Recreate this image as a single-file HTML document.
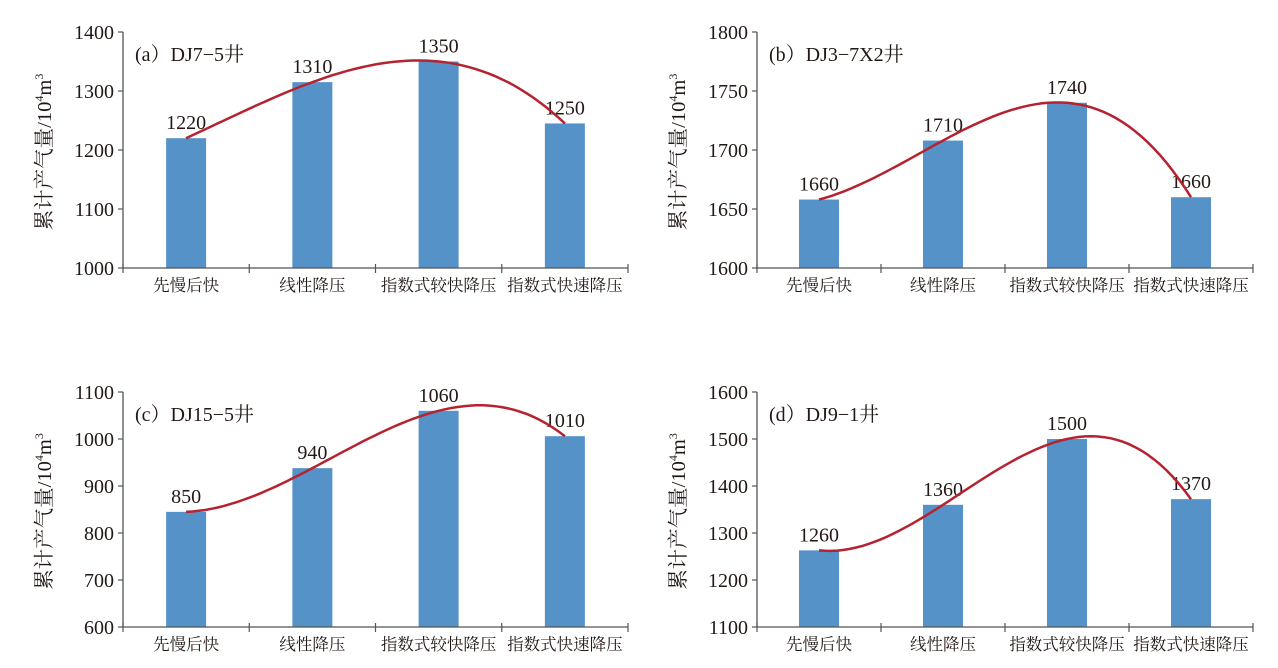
<!DOCTYPE html>
<html><head><meta charset="utf-8"><style>
body{margin:0;background:#fff;width:1278px;height:668px;overflow:hidden}
svg{display:block}
text{font-family:"Liberation Serif","Noto Serif CJK SC",serif;fill:#231815}
</style></head><body>
<svg id="chart" width="1278" height="668" xmlns="http://www.w3.org/2000/svg"></svg>
<script>
const categories=["先慢后快","线性降压","指数式较快降压","指数式快速降压"];
const valuesA=[1220,1315,1350,1245];
const labelsA=["1220","1310","1350","1250"];
const valuesB=[1658,1708,1740,1660];
const labelsB=["1660","1710","1740","1660"];
const valuesC=[845,938,1060,1006];
const labelsC=["850","940","1060","1010"];
const valuesD=[1263,1360,1500,1372];
const labelsD=["1260","1360","1500","1370"];
const titles=["(a）DJ7−5井","(b）DJ3−7X2井","(c）DJ15−5井","(d）DJ9−1井"];
const ticksA=[1000,1100,1200,1300,1400];
const ticksB=[1600,1650,1700,1750,1800];
const ticksC=[600,700,800,900,1000,1100];
const ticksD=[1100,1200,1300,1400,1500,1600];
const NS="http://www.w3.org/2000/svg";
const svg=document.getElementById('chart');
function mk(t,a,p){const e=document.createElementNS(NS,t);for(const k in a)e.setAttribute(k,a[k]);(p||svg).appendChild(e);return e;}
const panels=[
 {x0:123,x1:628,top:32,bot:268,vals:valuesA,labs:labelsA,ticks:ticksA,title:titles[0],name:"panel-a"},
 {x0:757,x1:1253,top:32,bot:268,vals:valuesB,labs:labelsB,ticks:ticksB,title:titles[1],name:"panel-b"},
 {x0:123,x1:628,top:392,bot:627,vals:valuesC,labs:labelsC,ticks:ticksC,title:titles[2],name:"panel-c"},
 {x0:757,x1:1253,top:392,bot:627,vals:valuesD,labs:labelsD,ticks:ticksD,title:titles[3],name:"panel-d"}];
panels.forEach(p=>{
 const g=mk('g',{});
 
 
 const lo=p.ticks[0],hi=p.ticks[p.ticks.length-1];
 const y=v=>p.bot-(v-lo)/(hi-lo)*(p.bot-p.top);
 const n=categories.length,bw=(p.x1-p.x0)/n;
 const xc=i=>p.x0+bw*(i+0.5);
 p.vals.forEach((v,i)=>{
  const r=mk('rect',{x:xc(i)-20,y:y(v),width:40,height:p.bot-y(v),fill:'#5592c8'},g);
  
  
  const t=mk('text',{x:xc(i),y:y(v)-9,'text-anchor':'middle','font-size':20},g);t.textContent=p.labs[i];
  
  
 });
 const ax=mk('path',{d:`M${p.x0},${p.top}V${p.bot}H${p.x1}`,stroke:'#555',fill:'none','stroke-width':1.3},g);
 
 
 for(let i=0;i<=n;i++){mk('line',{x1:p.x0+bw*i,x2:p.x0+bw*i,y1:p.bot-4,y2:p.bot+5,stroke:'#555','stroke-width':1.2},g);}
 p.ticks.forEach(tv=>{
  mk('line',{x1:p.x0-5,x2:p.x0,y1:y(tv),y2:y(tv),stroke:'#555','stroke-width':1.2},g);
  const t=mk('text',{x:p.x0-9,y:y(tv)+7,'text-anchor':'end','font-size':20},g);t.textContent=tv;
  
  
 });
 categories.forEach((c,i)=>{
  const t=mk('text',{x:xc(i),y:p.bot+23,'text-anchor':'middle','font-size':16.5},g);t.textContent=c;
  
  
 });
 const tt=mk('text',{x:p.x0+12,y:p.top+29,'font-size':20},g);tt.textContent=p.title;
 
 
 const yt=mk('text',{transform:`translate(${p.x0-72},${(p.top+p.bot)/2+2}) rotate(-90)`,'text-anchor':'middle','font-size':20.5,fill:'#3b2a22'},g);
 yt.innerHTML='累计产气量/10<tspan dy="-8" font-size="12">4</tspan><tspan dy="8">m</tspan><tspan dy="-8" font-size="12">3</tspan>';
 
 
 const L=s=>{let r=0;for(let j=0;j<n;j++){let w=1;for(let k=0;k<n;k++)if(k!==j)w*=(s-k)/(j-k);r+=w*p.vals[j];}return r;};
 let d='';for(let s=0;s<=3.0001;s+=0.05){d+=(d?'L':'M')+(xc(0)+s*bw).toFixed(1)+','+y(L(s)).toFixed(1);}
 const c=mk('path',{d:d,stroke:'#b52230',fill:'none','stroke-width':2.5},g);
 
 
});
</script>
</body></html>
